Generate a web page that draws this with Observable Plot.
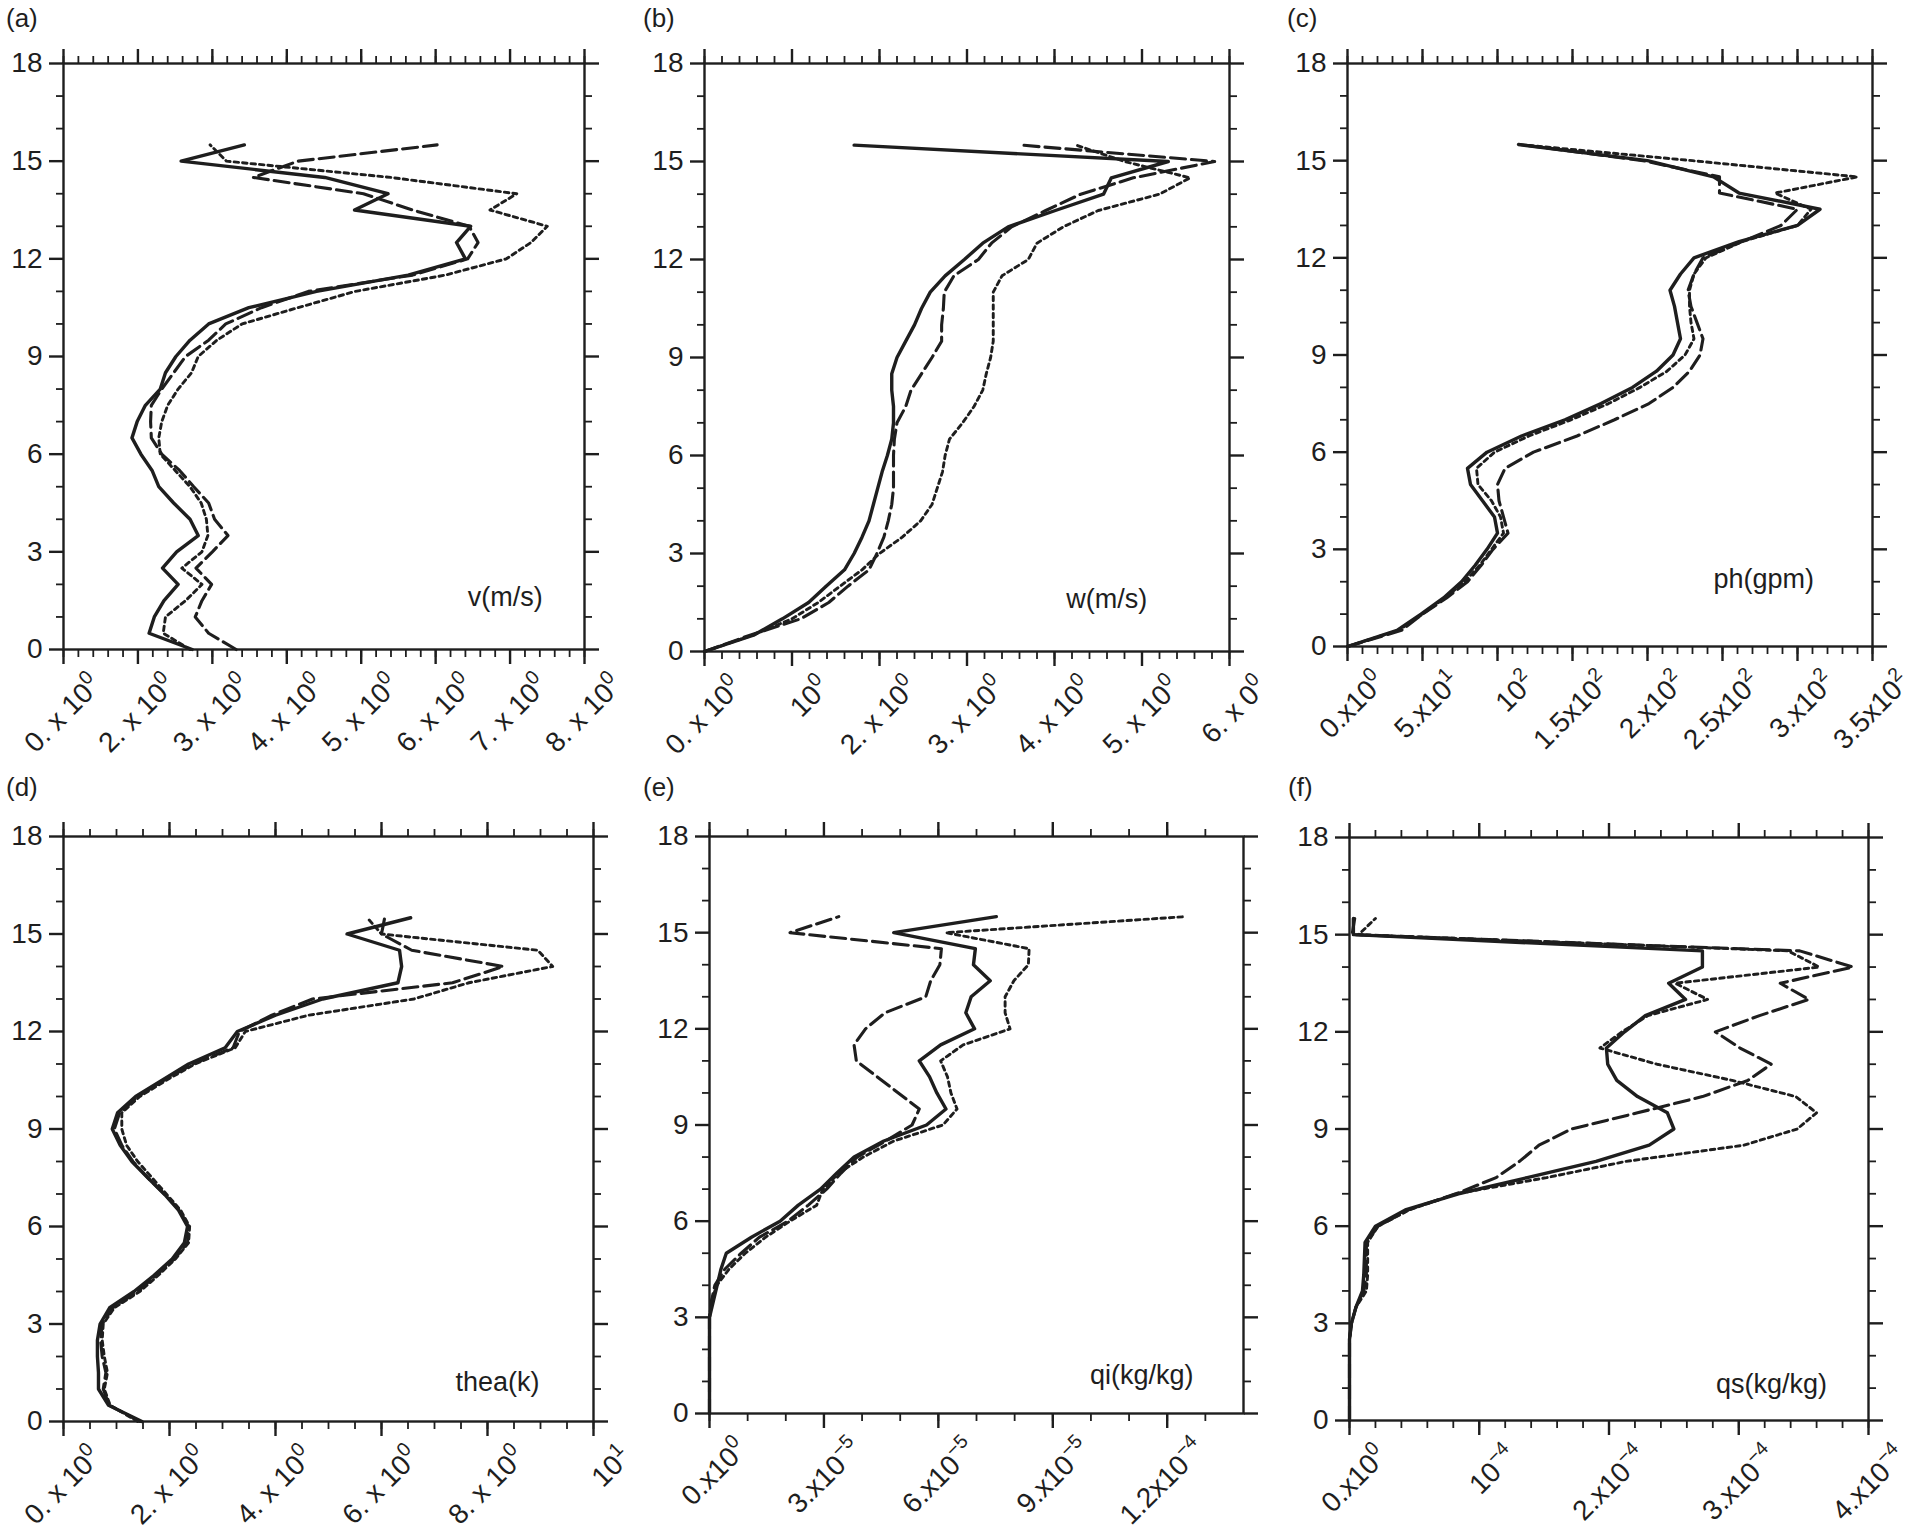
<!DOCTYPE html>
<html><head><meta charset="utf-8">
<script src="https://cdn.jsdelivr.net/npm/d3@7"></script>
<script src="https://cdn.jsdelivr.net/npm/@observablehq/plot@0.6"></script>
<style>
body{margin:0;background:#fff;}
#root{position:relative;width:1909px;height:1532px;font-family:"Liberation Sans",Arial,Helvetica,sans-serif;color:#1e1e1e;}
.panel{position:absolute;}
.tag{position:absolute;font-size:26px;line-height:26px;transform:translateY(-50%);}
</style></head><body><div id="root"></div>
<script>
// heights (km) of every profile point
const heights = [0,0.5,1,1.5,2,2.5,3,3.5,4,4.5,5,5.5,6,6.5,7,7.5,8,8.5,9,9.5,10,10.5,11,11.5,12,12.5,13,13.5,14,14.5,15,15.5];
const yTicks = [0,3,6,9,12,15,18];
const yMinor = [1,2,4,5,7,8,10,11,13,14,16,17];

// (a) v (m/s) — x in tick-position units
const vLabels = ["0. x 10^0","2. x 10^0","3. x 10^0","4. x 10^0","5. x 10^0","6. x 10^0","7. x 10^0","8. x 10^0"];
const vSolid  = [1.73,1.15,1.22,1.35,1.54,1.33,1.52,1.81,1.70,1.48,1.28,1.19,1.04,0.92,0.99,1.10,1.30,1.37,1.51,1.70,1.95,2.49,3.40,4.63,5.40,5.28,5.47,3.91,4.36,3.51,1.58,2.43];
const vDashed = [2.32,1.95,1.77,1.86,1.99,1.78,2.00,2.21,2.03,1.95,1.75,1.56,1.32,1.18,1.17,1.18,1.32,1.48,1.64,1.95,2.18,2.66,3.29,4.69,5.43,5.57,5.45,4.69,4.03,2.55,3.15,5.02];
const vDotted = [1.70,1.34,1.37,1.64,1.86,1.59,1.86,1.94,1.92,1.85,1.70,1.50,1.30,1.28,1.32,1.40,1.54,1.72,1.81,2.06,2.40,3.15,3.92,5.13,5.95,6.28,6.50,5.73,6.09,4.40,2.19,1.97];

// (b) w (m/s)
const wLabels = ["0. x 10^0","10^0","2. x 10^0","3. x 10^0","4. x 10^0","5. x 10^0","6. x 0^0"];
const wSolid  = [0,0.56,0.89,1.19,1.39,1.60,1.71,1.80,1.88,1.93,1.98,2.03,2.09,2.14,2.16,2.16,2.14,2.14,2.20,2.30,2.40,2.48,2.58,2.75,2.97,3.18,3.47,4.01,4.56,4.65,5.30,1.71];
const wDashed = [0,0.52,1.10,1.42,1.64,1.88,1.97,2.05,2.10,2.14,2.16,2.16,2.16,2.17,2.20,2.30,2.36,2.48,2.60,2.71,2.71,2.73,2.74,2.85,3.13,3.28,3.51,3.90,4.30,4.90,5.83,3.63];
const wDotted = [0,0.55,1.00,1.30,1.55,1.80,2.00,2.26,2.47,2.60,2.66,2.72,2.75,2.80,2.95,3.08,3.18,3.22,3.27,3.30,3.30,3.30,3.30,3.40,3.70,3.80,4.10,4.50,5.20,5.55,4.80,4.25];

// (c) ph (gpm)
const phLabels = ["0.x10^0","5.x10^1","10^2","1.5x10^2","2.x10^2","2.5x10^2","3.x10^2","3.5x10^2"];
const phSolid  = [0,33,49,64,76,85,93,100,98,90,82,80,93,116,145,169,190,206,217,222,220,218,215,222,231,261,300,315,261,244,200,114];
const phDashed = [0,36,50,66,80,89,97,107,104,101,100,105,124,153,178,201,217,228,235,237,233,229,227,231,237,263,289,300,248,248,197,115];
const phDotted = [0,34,50,65,78,88,96,104,102,96,87,86,98,121,149,174,195,213,225,231,229,228,228,231,239,263,300,309,285,340,230,114];

// (d) thea (k)
const thLabels = ["0. x 10^0","2. x 10^0","4. x 10^0","6. x 10^0","8. x 10^0","10^1"];
const thSolid  = [1.48,0.85,0.66,0.66,0.64,0.64,0.69,0.87,1.33,1.71,2.05,2.28,2.34,2.17,1.90,1.59,1.29,1.07,0.92,1.02,1.36,1.86,2.36,3.05,3.28,4.00,4.89,6.31,6.38,6.34,5.35,6.55];
const thDashed = [1.44,0.86,0.75,0.80,0.73,0.70,0.73,0.93,1.40,1.75,2.09,2.34,2.36,2.19,1.90,1.59,1.31,1.10,0.96,1.06,1.40,1.90,2.44,3.20,3.32,3.93,4.70,7.34,8.30,6.57,6.00,6.06];
const thDotted = [1.40,0.88,0.77,0.83,0.77,0.73,0.75,0.96,1.44,1.79,2.11,2.36,2.38,2.21,1.94,1.67,1.40,1.19,1.10,1.10,1.44,1.94,2.48,3.24,3.43,4.62,6.61,7.65,9.23,8.95,6.00,5.73];

// (e) qi (kg/kg), in units of 1e-5
const qiLabels = ["0.x10^0","3.x10^−5","6.x10^−5","9.x10^−5","1.2x10^−4"];
const qiSolid  = [0,0,0,0,0,0,0,0.10,0.20,0.30,0.44,1.10,1.85,2.33,2.91,3.34,3.79,4.57,5.69,6.20,5.96,5.77,5.50,6.06,6.95,6.72,6.86,7.36,6.92,6.97,4.83,7.52];
const qiDashed = [0,0,0,0,0,0,0,0.05,0.14,0.40,0.83,1.31,2.06,2.59,3.07,3.45,3.87,4.62,5.31,5.50,4.95,4.40,3.85,3.79,4.09,4.60,5.67,5.80,6.04,6.08,2.11,3.39];
const qiDotted = [0,0,0,0,0,0,0,0.05,0.19,0.51,0.94,1.47,2.11,2.81,2.97,3.39,4.03,4.83,6.12,6.49,6.33,6.24,6.06,6.65,7.88,7.75,7.75,7.98,8.36,8.38,6.20,12.47];

// (f) qs (kg/kg), in units of 1e-4
const qsLabels = ["0.x10^0","10^−4","2.x10^−4","3.x10^−4","4.x10^−4"];
const qsSolid  = [0,0,0,0,0,0,0.015,0.05,0.10,0.11,0.115,0.12,0.20,0.43,0.84,1.37,1.90,2.31,2.50,2.45,2.22,2.06,1.99,1.98,2.12,2.28,2.59,2.46,2.72,2.72,0.03,0.03];
const qsDashed = [0,0,0,0,0,0,0.015,0.05,0.11,0.13,0.13,0.13,0.22,0.45,0.82,1.13,1.31,1.46,1.71,2.22,2.72,3.07,3.25,3.01,2.82,3.16,3.54,3.32,3.88,3.47,0.02,0.04];
const qsDotted = [0,0,0,0,0,0,0.015,0.05,0.13,0.14,0.14,0.14,0.22,0.46,0.82,1.52,2.13,3.04,3.45,3.60,3.44,2.95,2.37,1.93,2.10,2.30,2.76,2.51,3.62,3.38,0.07,0.20];

const range = (a,b,s) => d3.range(a, b + s/2, s).map(v => +v.toFixed(4));

const panels = [
  {tag:"(a)", name:"v(m/s)",   nameAt:[6.44,1.61], dom:[0,7],   major:range(0,7,1),    minor:range(0,7,0.2),  labels:vLabels,  s:vSolid,  d:vDashed,  o:vDotted,  box:[63,584,63,649]},
  {tag:"(b)", name:"w(m/s)",   nameAt:[5.06,1.61], dom:[0,6],   major:range(0,6,1),    minor:range(0,6,0.2),  labels:wLabels,  s:wSolid,  d:wDashed,  o:wDotted,  box:[704,1229,63,651]},
  {tag:"(c)", name:"ph(gpm)",  nameAt:[311,2.07],  dom:[0,350], major:range(0,350,50), minor:range(0,350,10), labels:phLabels, s:phSolid, d:phDashed, o:phDotted, box:[1347,1872,63,646]},
  {tag:"(d)", name:"thea(k)",  nameAt:[8.98,1.19], dom:[0,10],  major:range(0,10,2),   minor:range(0,10,0.5), labels:thLabels, s:thSolid, d:thDashed, o:thDotted, box:[63,593,836,1421]},
  {tag:"(e)", name:"qi(kg/kg)",nameAt:[12.69,1.2], dom:[0,14],  major:range(0,12,3),   minor:range(0,13,1),   labels:qiLabels, s:qiSolid, d:qiDashed, o:qiDotted, box:[709,1243,836,1413]},
  {tag:"(f)", name:"qs(kg/kg)",nameAt:[3.68,1.12], dom:[0,4],   major:range(0,4,1),    minor:range(0,4,0.2),  labels:qsLabels, s:qsSolid, d:qsDashed, o:qsDotted, box:[1349,1868,837,1420]}
];

const root = document.getElementById("root");
const INK = "#1e1e1e";
const FONT = "'Liberation Sans', Arial, Helvetica, sans-serif";
const SVGNS = "http://www.w3.org/2000/svg";

// turn "base^exp" label text into real text with a raised, smaller exponent
function superscripts(svg) {
  svg.querySelectorAll("text").forEach(t => {
    const s = t.textContent;
    const i = s.indexOf("^");
    if (i < 0) return;
    t.textContent = "";
    const b = document.createElementNS(SVGNS, "tspan");
    b.textContent = s.slice(0, i);
    const e = document.createElementNS(SVGNS, "tspan");
    e.textContent = s.slice(i + 1);
    e.setAttribute("dy", "-0.62em");
    e.style.fontSize = "0.7em";
    t.appendChild(b); t.appendChild(e);
  });
}

for (const p of panels) {
  const [L, R, T, B] = p.box;
  const mL = 100, mR = 50, mT = 30, mB = 150;
  const rows = heights.map((h, i) => ({h, s: p.s[i], d: p.d[i], o: p.o[i]}));
  const chart = Plot.plot({
    width: (R - L) + mL + mR,
    height: (B - T) + mT + mB,
    marginLeft: mL, marginRight: mR, marginTop: mT, marginBottom: mB,
    x: {domain: p.dom, label: null},
    y: {domain: [0, 18], label: null},
    style: {fontFamily: FONT, color: INK, background: "transparent", overflow: "visible"},
    marks: [
      Plot.line(rows, {x: "s", y: "h", stroke: INK, strokeWidth: 3.4}),
      Plot.line(rows, {x: "d", y: "h", stroke: INK, strokeWidth: 3.1, strokeDasharray: "15,6"}),
      Plot.line(rows, {x: "o", y: "h", stroke: INK, strokeWidth: 2.9, strokeDasharray: "4.5,4"}),
      Plot.frame({stroke: INK, strokeWidth: 2.4}),
      Plot.axisX(p.major, {anchor: "bottom", tickSize: 15, tickFormat: () => "", strokeWidth: 2.4, stroke: INK}),
      Plot.axisX(p.minor, {anchor: "bottom", tickSize: 8, tickFormat: () => "", strokeWidth: 1.8, stroke: INK}),
      Plot.axisX(p.major, {anchor: "top", tickSize: 15, tickFormat: () => "", strokeWidth: 2.4, stroke: INK}),
      Plot.axisX(p.minor, {anchor: "top", tickSize: 8, tickFormat: () => "", strokeWidth: 1.8, stroke: INK}),
      Plot.axisY(yTicks, {anchor: "left", tickSize: 14, tickPadding: 7, fontSize: 28, strokeWidth: 2.4, stroke: INK, tickFormat: d => String(d)}),
      Plot.axisY(yMinor, {anchor: "left", tickSize: 7, tickFormat: () => "", strokeWidth: 1.8, stroke: INK}),
      Plot.axisY(yTicks, {anchor: "right", tickSize: 14, tickFormat: () => "", strokeWidth: 2.4, stroke: INK}),
      Plot.axisY(yMinor, {anchor: "right", tickSize: 7, tickFormat: () => "", strokeWidth: 1.8, stroke: INK}),
      Plot.text(p.major, {x: d => d, frameAnchor: "bottom", text: (d, i) => p.labels[i], rotate: -45,
        textAnchor: "end", lineAnchor: "middle", dx: 33, dy: 31, fontSize: 28, fill: INK}),
      Plot.text([p.name], {x: p.nameAt[0], y: p.nameAt[1], text: d => d, textAnchor: "end", fontSize: 27, fill: INK})
    ]
  });
  superscripts(chart);
  chart.classList.add("panel");
  chart.style.left = (L - mL) + "px";
  chart.style.top = (T - mT) + "px";
  root.appendChild(chart);
}

const tags = [["(a)",6,18],["(b)",643,18],["(c)",1287,18],["(d)",6,787],["(e)",643,787],["(f)",1288,787]];
for (const [t, x, y] of tags) {
  const el = document.createElement("div");
  el.className = "tag"; el.textContent = t;
  el.style.left = x + "px"; el.style.top = y + "px";
  root.appendChild(el);
}
</script></body></html>
